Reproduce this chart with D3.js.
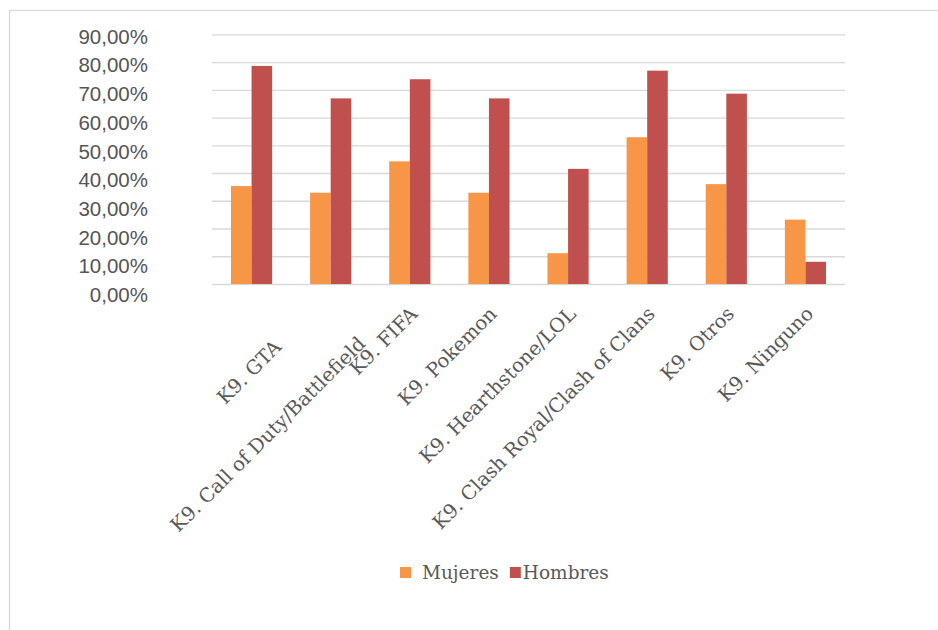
<!DOCTYPE html>
<html>
<head>
<meta charset="utf-8">
<script src="https://cdn.jsdelivr.net/npm/d3@7"></script>
<style>
body { margin: 0; background: #fff; }
</style>
</head>
<body>
<div id="vis"></div>
<script>
// Chart data
var categories = ['K9. GTA', 'K9. Call of Duty/Battlefield', 'K9. FIFA', 'K9. Pokemon',
	'K9. Hearthstone/LOL', 'K9. Clash Royal/Clash of Clans', 'K9. Otros', 'K9. Ninguno'];
var seriesNames = ['Mujeres', 'Hombres'];
var mujeres = [0.353, 0.329, 0.442, 0.329, 0.111, 0.529, 0.360, 0.232];
var hombres = [0.786, 0.669, 0.738, 0.669, 0.415, 0.769, 0.686, 0.080];
var yTicks = [0, 0.1, 0.2, 0.3, 0.4, 0.5, 0.6, 0.7, 0.8, 0.9];

var colors = {Mujeres: '#f79646', Hombres: '#c0504d'};

buildChart();

function buildChart() {
	var width = 938, height = 630;
	var plot = {left: 212, right: 845, top: 34.3, bottom: 284};

	var svg = d3.select('#vis')
		.append('svg')
		.attr('width', width)
		.attr('height', height);

	// outer frame (only top and left edges visible)
	svg.append('rect')
		.attr('x', 9.5)
		.attr('y', 10.5)
		.attr('width', 1200)
		.attr('height', 1200)
		.style('fill', 'none')
		.style('stroke', '#d9d9d9')
		.style('stroke-width', 1.3);

	var x0 = d3.scaleBand()
		.domain(categories)
		.range([plot.left, plot.right])
		.paddingInner(0.48)
		.paddingOuter(0.24);

	var x1 = d3.scaleBand()
		.domain(seriesNames)
		.range([0, x0.bandwidth()]);

	var y = d3.scaleLinear()
		.domain([0, 0.9])
		.range([plot.bottom, plot.top]);

	// tick labels sit on a slightly wider spacing than the gridlines
	var yLab = d3.scaleLinear()
		.domain([0, 0.9])
		.range([295, 36.7]);

	var locale = d3.formatLocale({decimal: ',', thousands: '.', grouping: [3], currency: ['', '€']});
	var pct = locale.format('.2%');

	// gridlines
	var grid = svg.append('g')
		.attr('transform', 'translate(' + plot.left + ',0)')
		.call(d3.axisLeft(y)
			.tickValues(yTicks)
			.tickSize(-(plot.right - plot.left))
			.tickFormat(''));
	grid.select('.domain').remove();
	grid.selectAll('line')
		.style('stroke', '#d9d9d9')
		.style('stroke-width', 1.3);

	// y tick labels
	var yAxis = svg.append('g')
		.attr('transform', 'translate(148,0)')
		.call(d3.axisLeft(yLab)
			.tickValues(yTicks)
			.tickSize(0)
			.tickPadding(0)
			.tickFormat(pct));
	yAxis.select('.domain').remove();
	yAxis.selectAll('text')
		.style('font-family', '"Liberation Sans", Arial, sans-serif')
		.style('font-size', '20.5px')
		.style('fill', '#555555');

	// bars
	var rows = categories.map(function(c, i) {
		return {cat: c, values: [
			{name: 'Mujeres', value: mujeres[i]},
			{name: 'Hombres', value: hombres[i]}
		]};
	});

	var group = svg.append('g')
		.selectAll('.group')
		.data(rows)
		.enter()
		.append('g')
		.attr('class', 'group')
		.attr('transform', function(d) { return 'translate(' + x0(d.cat) + ',0)'; });

	group.selectAll('rect')
		.data(function(d) { return d.values; })
		.enter()
		.append('rect')
		.attr('x', function(d) { return x1(d.name); })
		.attr('y', function(d) { return y(d.value); })
		.attr('width', x1.bandwidth())
		.attr('height', function(d) { return y(0) - y(d.value); })
		.style('fill', function(d) { return colors[d.name]; });

	// rotated category labels; the first two sit lower in the original
	var nudge = [[22, 33], [27, 30]];
	svg.append('g')
		.selectAll('text')
		.data(categories)
		.enter()
		.append('text')
		.attr('transform', function(d, i) {
			var n = nudge[i] || [0, 0];
			var cx = x0(d) + x0.bandwidth() / 2 + 9 + n[0];
			return 'translate(' + cx + ',' + (315 + n[1]) + ') rotate(-45)';
		})
		.attr('text-anchor', 'end')
		.style('font-family', '"DejaVu Serif", serif')
		.style('font-size', '19.5px')
		.style('fill', '#595959')
		.text(function(d) { return d; });

	// legend
	var legend = svg.append('g')
		.attr('transform', 'translate(400,567)');
	var offset = 0;
	seriesNames.forEach(function(name, i) {
		var item = legend.append('g')
			.attr('transform', 'translate(' + offset + ',0)');
		item.append('rect')
			.attr('width', 11)
			.attr('height', 11)
			.style('fill', colors[name]);
		var label = item.append('text')
			.attr('x', i === 0 ? 22 : 13)
			.attr('y', 12)
			.style('font-family', '"DejaVu Serif", serif')
			.style('font-size', '18.5px')
			.style('fill', '#595959')
			.text(name);
		offset += (i === 0 ? 22 : 13) + label.node().getComputedTextLength() + 11;
	});
}
</script>
</body>
</html>
